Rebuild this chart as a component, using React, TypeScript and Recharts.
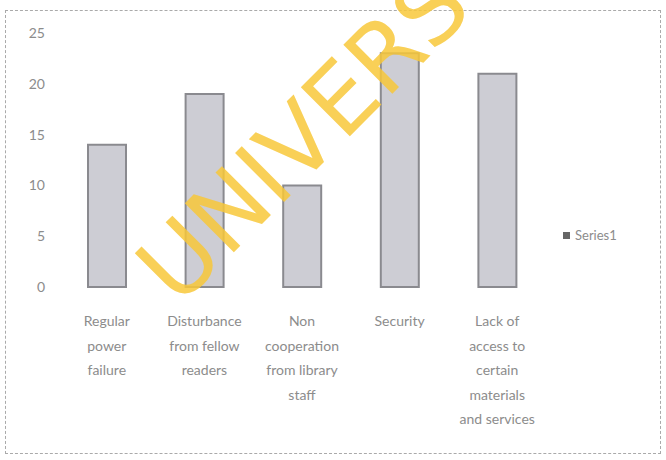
import React from 'react';
import { BarChart, Bar, XAxis, YAxis, Legend } from 'recharts';

// values
const categories = [
  'Regular power failure',
  'Disturbance from fellow readers',
  'Non cooperation from library staff',
  'Security',
  'Lack of access to certain materials and services',
];
const series1 = [14, 19, 10, 23, 21];
const tickLines = [
  ['Regular', 'power', 'failure'],
  ['Disturbance', 'from fellow', 'readers'],
  ['Non', 'cooperation', 'from library', 'staff'],
  ['Security'],
  ['Lack of', 'access to', 'certain', 'materials', 'and services'],
];
const yTicks = [0, 5, 10, 15, 20, 25];

const FONT = 'Lato, "Open Sans", sans-serif';
const TEXT = '#8c8c8c';

const data = categories.map((name, i) => ({ name, value: series1[i] }));

const CategoryTick = ({ x, y, payload }: any) => {
  const idx = categories.indexOf(payload.value);
  const lines = idx >= 0 ? tickLines[idx] : [payload.value];
  return (
    <text x={x} y={y} textAnchor="middle" fill={TEXT} fontSize={14} fontFamily={FONT}>
      {lines.map((l, i) => (
        <tspan key={i} x={x} dy={i === 0 ? 31 : 24.5}>{l}</tspan>
      ))}
    </text>
  );
};

const LegendContent = () => (
  <div style={{ display: 'flex', alignItems: 'center', fontFamily: FONT, fontSize: 13, color: TEXT }}>
    <span style={{ width: 7, height: 7, background: '#666', display: 'inline-block', marginRight: 5 }} />
    Series1
  </div>
);

export default function App() {
  return (
    <div style={{ position: 'absolute', left: 0, top: 0, width: 666, height: 460, background: '#fff', overflow: 'hidden' }}>
      <div style={{ position: 'absolute', left: 5, top: 10, width: 654, height: 442, border: '1px dashed #aaa' }} />
      <BarChart
        width={666}
        height={460}
        data={data}
        margin={{ top: 33, right: 120, bottom: 0, left: 0 }}
        barCategoryGap={0}
      >
        <XAxis
          dataKey="name"
          axisLine={false}
          tickLine={false}
          interval={0}
          height={173}
          tick={<CategoryTick />}
        />
        <YAxis
          domain={[0, 25]}
          ticks={yTicks}
          width={58}
          axisLine={false}
          tickLine={false}
          tickMargin={7}
          tick={{ fill: TEXT, fontSize: 14, fontFamily: FONT }}
        />
        <Legend
          layout="horizontal"
          verticalAlign="middle"
          align="center"
          wrapperStyle={{ left: 563, top: 227, width: 90 }}
          content={<LegendContent />}
        />
        <Bar
          dataKey="value"
          name="Series1"
          barSize={38}
          fill="#cdcdd4"
          stroke="#8a8a8f"
          strokeWidth={2}
          isAnimationActive={false}
        />
      </BarChart>
      {/* scan watermark */}
      <svg width={666} height={460} style={{ position: 'absolute', left: 0, top: 0, pointerEvents: 'none' }}>
        <text
          x={178}
          y={308}
          transform="rotate(-45 178 308)"
          fill="#f8c83a"
          fontSize={95}
          fontFamily='"DejaVu Sans", sans-serif'
          opacity={0.85}
        >
          UNIVERS
        </text>
      </svg>
    </div>
  );
}
